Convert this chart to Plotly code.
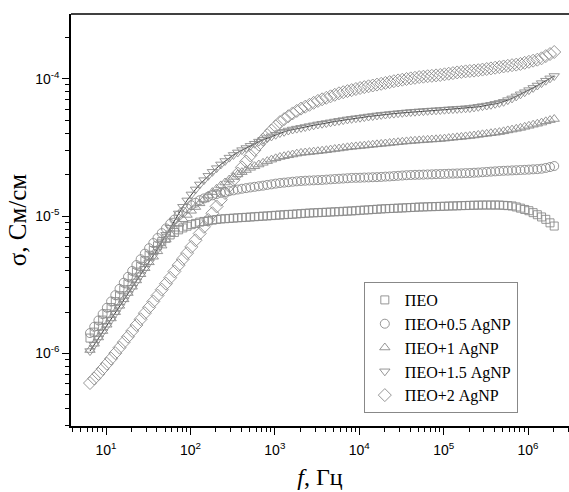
import plotly.graph_objects as go

# Frequency, Hz
freq = [6.457, 7.244, 8.128, 9.120,
        10.23, 11.48, 12.88, 14.45, 16.22, 18.20, 20.42, 22.91, 25.70, 28.84,
        32.36, 36.31, 40.74, 45.71, 51.29, 57.54, 64.57, 72.44, 81.28, 91.20,
        102.3, 114.8, 128.8, 144.5, 162.2, 182.0, 204.2, 229.1, 257.0, 288.4,
        323.6, 363.1, 407.4, 457.1, 512.9, 575.4, 645.7, 724.4, 812.8, 912.0,
        1023, 1148, 1288, 1445, 1622, 1820, 2042, 2291, 2570, 2884,
        3236, 3631, 4074, 4571, 5129, 5754, 6457, 7244, 8128, 9120,
        10230, 11480, 12880, 14450, 16220, 18200, 20420, 22910, 25700, 28840,
        32360, 36310, 40740, 45710, 51290, 57540, 64570, 72440, 81280, 91200,
        102300, 114800, 128800, 144500, 162200, 182000, 204200, 229100, 257000, 288400,
        323600, 363100, 407400, 457100, 512900, 575400, 645700, 724400, 812800, 912000,
        1023000, 1148000, 1288000, 1445000, 1622000, 1820000, 2042000]

# Conductivity, uS/cm
peo = [1.292, 1.427, 1.575, 1.747, 1.942, 2.155, 2.379, 2.627, 2.905, 3.207,
       3.540, 3.908, 4.307, 4.732, 5.181, 5.616, 6.066, 6.507, 6.890, 7.282,
       7.593, 7.933, 8.189, 8.426, 8.654, 8.831, 9.024, 9.131, 9.224, 9.333,
       9.428, 9.522, 9.555, 9.603, 9.652, 9.701, 9.748, 9.781, 9.831, 9.881,
       9.931, 9.979, 10.01, 10.07, 10.12, 10.17, 10.22, 10.27, 10.30, 10.36,
       10.41, 10.46, 10.51, 10.55, 10.58, 10.62, 10.65, 10.69, 10.73, 10.76,
       10.82, 10.85, 10.89, 10.94, 11.00, 11.05, 11.09, 11.15, 11.20, 11.26,
       11.30, 11.34, 11.37, 11.41, 11.45, 11.49, 11.53, 11.57, 11.62, 11.64,
       11.68, 11.70, 11.72, 11.76, 11.78, 11.82, 11.84, 11.86, 11.90, 11.92,
       11.96, 11.98, 12.00, 12.02, 12.02, 12.02, 12.02, 12.02, 11.96, 11.90,
       11.84, 11.64, 11.41, 11.16, 10.93, 10.58, 10.22, 9.847, 9.458, 8.919,
       8.453]

peo_05 = [1.405, 1.562, 1.736, 1.932, 2.148, 2.387, 2.653, 2.950, 3.267, 3.606,
          3.981, 4.395, 4.844, 5.321, 5.827, 6.356, 6.912, 7.508, 8.122, 8.772,
          9.413, 10.10, 10.73, 11.37, 11.98, 12.49, 13.03, 13.43, 13.82, 14.15,
          14.46, 14.75, 14.95, 15.18, 15.38, 15.59, 15.80, 15.96, 16.15, 16.31,
          16.48, 16.64, 16.84, 17.01, 17.21, 17.38, 17.50, 17.62, 17.77, 17.89,
          17.98, 18.07, 18.13, 18.19, 18.25, 18.31, 18.41, 18.50, 18.59, 18.68,
          18.75, 18.84, 18.94, 18.97, 19.00, 19.07, 19.10, 19.16, 19.19, 19.26,
          19.36, 19.42, 19.52, 19.62, 19.72, 19.82, 19.88, 19.95, 19.98, 20.02,
          20.08, 20.12, 20.18, 20.22, 20.25, 20.32, 20.36, 20.42, 20.46, 20.53,
          20.56, 20.66, 20.73, 20.84, 20.94, 21.05, 21.15, 21.26, 21.34, 21.40,
          21.48, 21.55, 21.62, 21.69, 21.77, 21.88, 21.95, 22.10, 22.39, 22.73,
          23.12]

peo_1 = [1.057, 1.174, 1.305, 1.453, 1.615, 1.795, 1.995, 2.218, 2.473, 2.749,
         3.055, 3.395, 3.767, 4.172, 4.599, 5.052, 5.532, 6.087, 6.730, 7.417,
         8.080, 8.786, 9.476, 10.18, 10.91, 11.62, 12.37, 13.18, 14.07, 14.93,
         15.80, 16.70, 17.54, 18.44, 19.26, 20.08, 20.87, 21.62, 22.43, 23.05,
         23.71, 24.40, 25.10, 25.74, 26.31, 26.89, 27.25, 27.67, 28.04, 28.46,
         28.80, 29.00, 29.20, 29.44, 29.64, 29.89, 30.14, 30.45, 30.75, 31.01,
         31.32, 31.64, 31.90, 32.12, 32.33, 32.55, 32.82, 33.04, 33.27, 33.50,
         33.72, 34.00, 34.23, 34.46, 34.70, 34.93, 35.16, 35.34, 35.52, 35.70,
         35.88, 36.06, 36.18, 36.37, 36.61, 36.92, 37.16, 37.42, 37.67, 37.99,
         38.24, 38.57, 38.95, 39.35, 39.67, 40.08, 40.41, 40.82, 41.37, 42.00,
         42.57, 43.15, 43.80, 44.62, 45.38, 46.22, 47.00, 47.87, 48.93, 49.92,
         50.84]

peo_15 = [1.039, 1.155, 1.284, 1.429, 1.588, 1.765, 1.962, 2.181, 2.432, 2.703,
          3.004, 3.338, 3.710, 4.130, 4.591, 5.137, 5.748, 6.454, 7.294, 8.217,
          9.271, 10.44, 11.67, 12.99, 14.36, 15.62, 16.98, 18.25, 19.62, 20.98,
          22.32, 23.75, 25.14, 26.62, 27.85, 29.05, 30.19, 31.27, 32.44, 33.61,
          34.81, 35.88, 36.92, 37.99, 39.08, 40.22, 41.03, 41.93, 42.65, 43.29,
          43.87, 44.47, 45.14, 45.75, 46.45, 47.00, 47.55, 48.12, 48.76, 49.34,
          49.92, 50.51, 51.02, 51.53, 51.97, 52.50, 53.02, 53.47, 54.01, 54.47,
          54.83, 55.29, 55.67, 56.05, 56.42, 56.80, 57.18, 57.47, 57.76, 58.06,
          58.35, 58.64, 58.84, 59.14, 59.44, 59.73, 60.03, 60.24, 60.54, 60.85,
          61.15, 61.77, 62.40, 63.14, 63.77, 64.53, 65.61, 66.63, 67.87, 69.82,
          71.84, 74.28, 76.95, 79.71, 82.57, 85.66, 89.19, 92.86, 96.67, 100.6,
          104.6]

peo_2 = [0.608, 0.656, 0.709, 0.771, 0.840, 0.915, 1.003, 1.100, 1.206, 1.323,
         1.455, 1.607, 1.771, 1.962, 2.162, 2.387, 2.636, 2.910, 3.217, 3.552,
         3.948, 4.389, 4.853, 5.366, 5.955, 6.662, 7.455, 8.341, 9.365, 10.48,
         11.74, 13.14, 14.71, 16.51, 18.34, 20.39, 22.62, 24.94, 27.58, 30.24,
         33.11, 35.94, 38.83, 41.93, 45.00, 48.28, 50.77, 53.30, 55.86, 58.26,
         60.56, 62.51, 64.53, 66.74, 68.89, 70.77, 72.56, 74.40, 76.31, 78.25,
         79.71, 81.19, 82.57, 84.10, 85.53, 86.82, 88.01, 89.19, 90.56, 91.78,
         93.16, 94.43, 95.85, 97.14, 98.29, 99.45, 100.5, 101.5, 102.7, 103.4,
         104.2, 104.9, 105.7, 106.4, 107.6, 108.7, 109.8, 111.1, 112.0, 113.0,
         113.7, 114.5, 115.3, 116.5, 117.6, 118.8, 120.2, 121.4, 122.7, 124.1,
         125.4, 126.6, 128.1, 130.5, 132.7, 135.2, 137.5, 140.7, 146.0, 151.2,
         156.4]

names = ["ПЕО", "ПЕО+0.5 AgNP", "ПЕО+1 AgNP", "ПЕО+1.5 AgNP", "ПЕО+2 AgNP"]
series = [peo, peo_05, peo_1, peo_15, peo_2]
symbols = ["square-open", "circle-open", "triangle-up-open", "triangle-down-open", "diamond-open"]
sizes = [8, 9, 9, 9, 10]

x_tickvals = [10, 100, 1000, 10000, 100000, 1000000]
x_ticktext = ["10<sup>1</sup>", "10<sup>2</sup>", "10<sup>3</sup>", "10<sup>4</sup>",
              "10<sup>5</sup>", "10<sup>6</sup>"]
y_tickvals = [1e-6, 1e-5, 1e-4]
y_ticktext = ["10<sup>-6</sup>", "10<sup>-5</sup>", "10<sup>-4</sup>"]

x_minor = [m * 10 ** e for e in range(0, 7) for m in range(2, 10)]
y_minor = [m * 10.0 ** e for e in range(-7, -3) for m in range(2, 10)]

MC = "#8a8a8a"
fig = go.Figure()

# thin connecting line visible along the 1.5 AgNP curve
fig.add_trace(go.Scatter(x=freq, y=[v * 1e-6 for v in peo_15], mode="lines",
                         line=dict(color="black", width=0.8), showlegend=False,
                         hoverinfo="skip"))

for name, vals, sym, sz in zip(names, series, symbols, sizes):
    fig.add_trace(go.Scatter(
        x=freq, y=[v * 1e-6 for v in vals], mode="markers", name=name,
        marker=dict(symbol=sym, size=sz, color=MC, line=dict(color=MC, width=0.9)),
    ))

axis_common = dict(
    type="log", showgrid=False, zeroline=False,
    showline=True, linecolor="black", linewidth=1.5,
    ticks="outside", ticklen=7, tickwidth=1.2, tickcolor="black",
    tickmode="array",
    tickfont=dict(family="Liberation Sans, Arial, sans-serif", size=14, color="black"),
)

fig.update_layout(
    width=569, height=492,
    paper_bgcolor="white", plot_bgcolor="white",
    margin=dict(l=71, r=0, t=14, b=66, autoexpand=False),
    xaxis=dict(
        **axis_common,
        range=[0.585, 6.485],
        tickvals=x_tickvals, ticktext=x_ticktext,
        ticklabelstandoff=3,
        mirror=False,
        minor=dict(tickmode="array", tickvals=x_minor, ticks="outside", ticklen=4,
                   tickwidth=1, tickcolor="black"),
        title=dict(text="<i>f</i>, Гц", standoff=12,
                   font=dict(family="Liberation Serif, Times New Roman, serif", size=24, color="black")),
    ),
    yaxis=dict(
        **axis_common,
        range=[-6.529, -3.529],
        tickvals=y_tickvals, ticktext=y_ticktext,
        minor=dict(tickmode="array", tickvals=y_minor, ticks="outside", ticklen=4,
                   tickwidth=1, tickcolor="black"),
        title=dict(text="σ, См/см", standoff=1,
                   font=dict(family="Liberation Serif, Times New Roman, serif", size=25, color="black")),
    ),
    legend=dict(
        x=0.588, y=0.3495, xanchor="left", yanchor="top",
        bgcolor="white", bordercolor="#888888", borderwidth=1,
        font=dict(family="Liberation Serif, Times New Roman, serif", size=16, color="black"),
        itemsizing="trace", tracegroupgap=0,
    ),
    showlegend=True,
)

# top frame line
fig.add_shape(type="line", xref="paper", yref="paper", x0=0, x1=1, y0=1, y1=1,
              line=dict(color="black", width=1.5))

fig.write_html("out.html",
               config={"displayModeBar": False},
               post_script="document.body.style.margin='0';document.body.style.padding='0';")
